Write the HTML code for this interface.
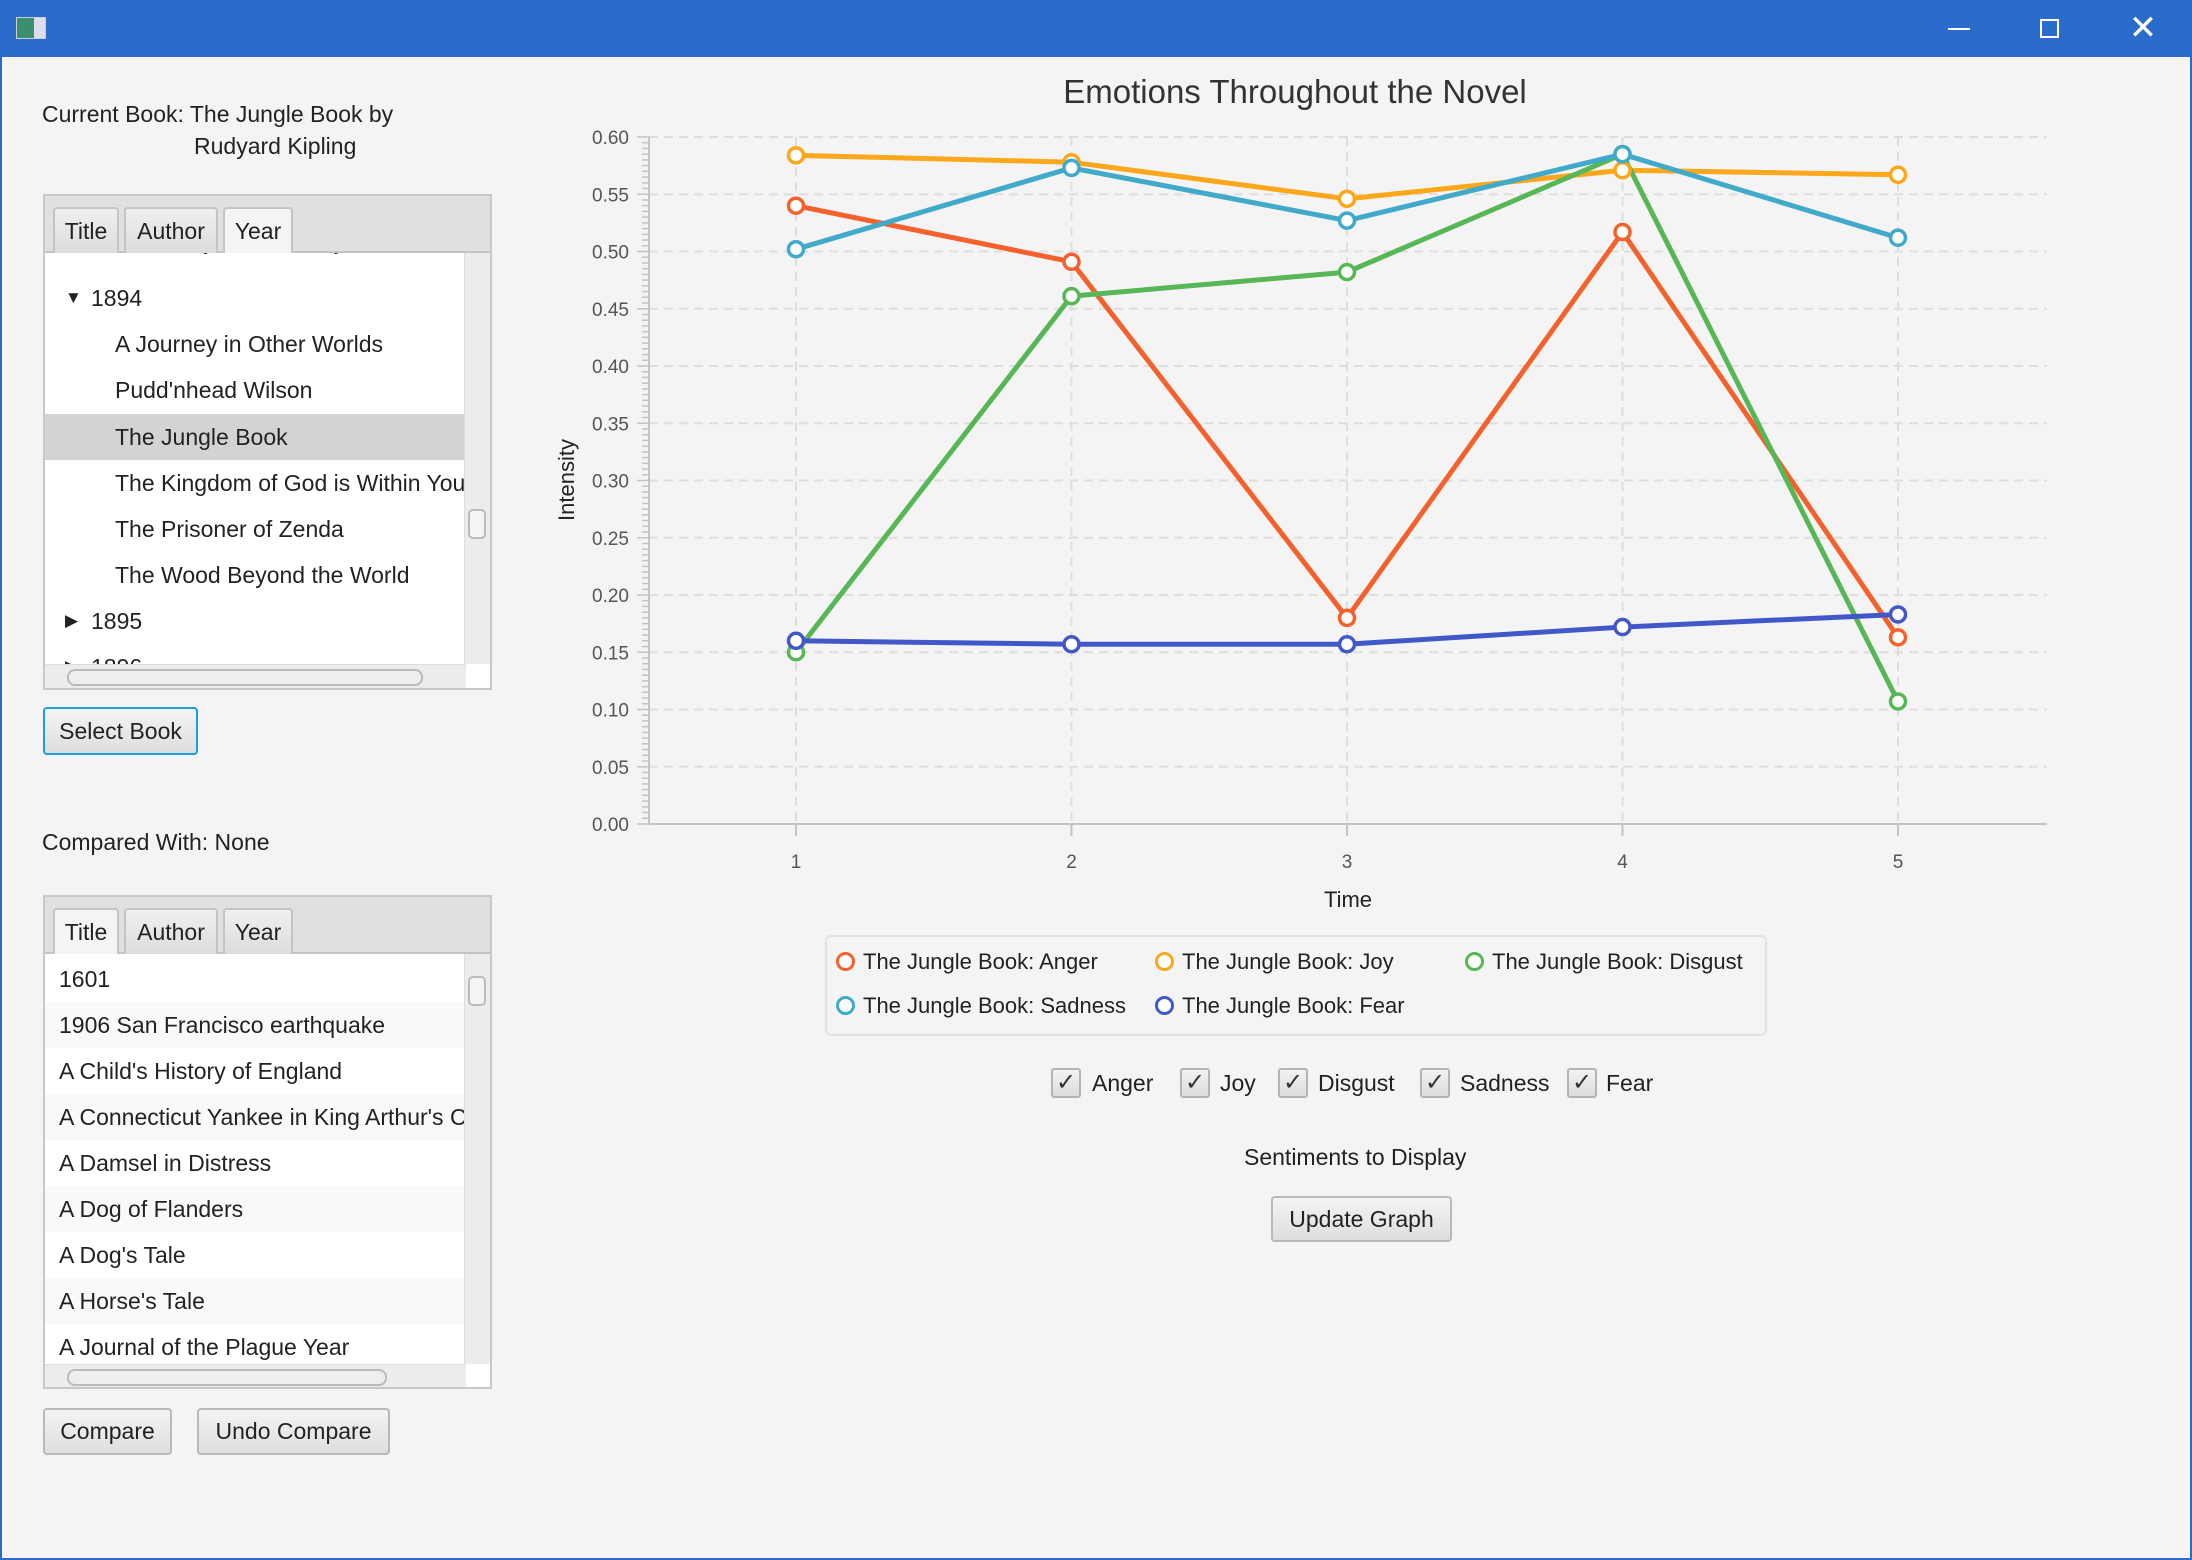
<!DOCTYPE html>
<html><head><meta charset="utf-8">
<style>
*{box-sizing:border-box}
body{margin:0;width:2192px;height:1560px;overflow:hidden;background:#f4f4f4;font-family:"Liberation Sans",sans-serif;color:#222;position:relative}
.abs{position:absolute}
.titlebar{left:0;top:0;width:2192px;height:57px;background:#2b6bcb}
.frame{left:0;top:57px;width:2192px;height:1503px;border:2px solid #2b6bcb;border-top:none}
.txt{font-size:23px;white-space:nowrap}
.box{border:2px solid #c8c8c8;background:#fff;overflow:hidden}
.hdr{position:absolute;left:0;top:0;width:100%;height:57px;background:#e0e0e0;border-bottom:2px solid #c4c4c4}
.tab{position:absolute;top:11px;height:46px;border:2px solid #c4c4c4;border-bottom:none;border-radius:4px 4px 0 0;background:linear-gradient(#f0f0f0,#dcdcdc);font-size:23px;text-align:center;line-height:44px}
.tab.sel{background:#f4f4f4}
.row{position:absolute;left:0;width:100%;height:46px;font-size:23px;line-height:46px;white-space:nowrap}
.vs{position:absolute;right:0;width:26px;background:#ececec;border-left:1px solid #ddd}
.hs{position:absolute;left:0;height:26px;background:#ececec;border-top:1px solid #ddd}
.btn{border:2px solid #b9b9b9;border-radius:4px;background:linear-gradient(#f4f4f4,#dedede);font-size:23px;text-align:center}
.cb{width:30px;height:30px;border:2px solid #b4b4b4;border-radius:3px;background:linear-gradient(#f2f2f2,#dcdcdc);font-size:24px;line-height:26px;text-align:center;color:#333}
</style></head><body>
<div class="abs titlebar">
  <div class="abs" style="left:16px;top:17px;width:30px;height:22px;background:linear-gradient(90deg,#3b8e6e 60%,#dde 60%);border:1px solid #ccc"></div>
  <div class="abs" style="left:1948px;top:28px;width:22px;height:2px;background:#fff"></div>
  <div class="abs" style="left:2040px;top:19px;width:19px;height:19px;border:2px solid #fff"></div>
  <div class="abs" style="left:2128px;top:14px;width:30px;height:30px;color:#fff;font-size:34px;line-height:28px;text-align:center">✕</div>
</div>
<div class="abs frame"></div>

<div class="abs txt" style="left:42px;top:101px">Current Book: The Jungle Book by</div>
<div class="abs txt" style="left:194px;top:133px">Rudyard Kipling</div>

<div class="abs box" style="left:43px;top:194px;width:449px;height:496px">
  <div class="hdr">
    <div class="tab" style="left:8px;width:66px">Title</div>
    <div class="tab" style="left:79px;width:94px">Author</div>
    <div class="tab sel" style="left:178px;width:70px">Year</div>
  </div>
  <div class="abs" style="left:0;top:57px;width:421px;height:411px;overflow:hidden">
    <div class="row" style="top:-35px;padding-left:70px">The Diary of a Nobody</div>
    <div class="row" style="top:22px;padding-left:46px"><span style="font-size:17px;position:absolute;left:20px">▼</span>1894</div>
    <div class="row" style="top:68px;padding-left:70px">A Journey in Other Worlds</div>
    <div class="row" style="top:114px;padding-left:70px">Pudd'nhead Wilson</div>
    <div class="row" style="top:161px;padding-left:70px;background:#d3d3d3">The Jungle Book</div>
    <div class="row" style="top:207px;padding-left:70px">The Kingdom of God is Within You</div>
    <div class="row" style="top:253px;padding-left:70px">The Prisoner of Zenda</div>
    <div class="row" style="top:299px;padding-left:70px">The Wood Beyond the World</div>
    <div class="row" style="top:345px;padding-left:46px"><span style="font-size:17px;position:absolute;left:20px">▶</span>1895</div>
    <div class="row" style="top:391px;padding-left:46px"><span style="font-size:17px;position:absolute;left:20px">▶</span>1896</div>
  </div>
  <div class="vs" style="top:57px;height:411px"><div class="abs" style="left:3px;top:256px;width:18px;height:30px;border:2px solid #bbb;border-radius:5px;background:#f4f4f4"></div></div>
  <div class="hs" style="top:468px;width:421px"><div class="abs" style="left:22px;top:4px;width:356px;height:17px;border:2px solid #bbb;border-radius:8px;background:#eee"></div></div>
</div>
<div class="abs btn" style="left:43px;top:707px;width:155px;height:48px;line-height:44px;border-color:#1d9fd9">Select Book</div>

<div class="abs txt" style="left:42px;top:829px">Compared With: None</div>

<div class="abs box" style="left:43px;top:895px;width:449px;height:494px">
  <div class="hdr">
    <div class="tab sel" style="left:8px;width:66px">Title</div>
    <div class="tab" style="left:79px;width:94px">Author</div>
    <div class="tab" style="left:178px;width:70px">Year</div>
  </div>
  <div class="abs" style="left:0;top:57px;width:421px;height:410px;overflow:hidden">
    <div class="row" style="top:2px;padding-left:14px">1601</div>
    <div class="row" style="top:48px;padding-left:14px;background:#f9f9f9">1906 San Francisco earthquake</div>
    <div class="row" style="top:94px;padding-left:14px">A Child's History of England</div>
    <div class="row" style="top:140px;padding-left:14px;background:#f9f9f9">A Connecticut Yankee in King Arthur's Court</div>
    <div class="row" style="top:186px;padding-left:14px">A Damsel in Distress</div>
    <div class="row" style="top:232px;padding-left:14px;background:#f9f9f9">A Dog of Flanders</div>
    <div class="row" style="top:278px;padding-left:14px">A Dog's Tale</div>
    <div class="row" style="top:324px;padding-left:14px;background:#f9f9f9">A Horse's Tale</div>
    <div class="row" style="top:370px;padding-left:14px">A Journal of the Plague Year</div>
  </div>
  <div class="vs" style="top:57px;height:410px"><div class="abs" style="left:3px;top:22px;width:18px;height:30px;border:2px solid #bbb;border-radius:5px;background:#f4f4f4"></div></div>
  <div class="hs" style="top:467px;width:421px"><div class="abs" style="left:22px;top:4px;width:320px;height:17px;border:2px solid #bbb;border-radius:8px;background:#eee"></div></div>
</div>
<div class="abs btn" style="left:43px;top:1408px;width:129px;height:47px;line-height:43px">Compare</div>
<div class="abs btn" style="left:197px;top:1408px;width:193px;height:47px;line-height:43px">Undo Compare</div>

<svg class="abs" id="chart" style="left:0;top:0" width="2192" height="960"></svg>

<div class="abs" style="left:825px;top:935px;width:942px;height:101px;border:2px solid #e2e2e2;border-radius:6px;background:#f4f4f4"></div>
<div id="legend-items"></div>

<div class="abs cb" style="left:1051px;top:1068px">✓</div>
<div class="abs txt" style="left:1092px;top:1070px">Anger</div>
<div class="abs cb" style="left:1180px;top:1068px">✓</div>
<div class="abs txt" style="left:1220px;top:1070px">Joy</div>
<div class="abs cb" style="left:1278px;top:1068px">✓</div>
<div class="abs txt" style="left:1318px;top:1070px">Disgust</div>
<div class="abs cb" style="left:1420px;top:1068px">✓</div>
<div class="abs txt" style="left:1460px;top:1070px">Sadness</div>
<div class="abs cb" style="left:1567px;top:1068px">✓</div>
<div class="abs txt" style="left:1606px;top:1070px">Fear</div>

<div class="abs txt" style="left:1244px;top:1144px">Sentiments to Display</div>
<div class="abs btn" style="left:1271px;top:1196px;width:181px;height:46px;line-height:42px">Update Graph</div>

<script>
const categories = [1, 2, 3, 4, 5];
const seriesNames = ["The Jungle Book: Anger","The Jungle Book: Joy","The Jungle Book: Disgust","The Jungle Book: Sadness","The Jungle Book: Fear"];
const anger   = [0.540, 0.491, 0.180, 0.517, 0.163];
const joy     = [0.584, 0.578, 0.546, 0.571, 0.567];
const disgust = [0.150, 0.461, 0.482, 0.585, 0.107];
const sadness = [0.502, 0.573, 0.527, 0.585, 0.512];
const fear    = [0.160, 0.157, 0.157, 0.172, 0.183];
const yTicks = ["0.00","0.05","0.10","0.15","0.20","0.25","0.30","0.35","0.40","0.45","0.50","0.55","0.60"];

const NS="http://www.w3.org/2000/svg";
const svg=document.getElementById('chart');
const L=649,R=2047,T=137,B=824;
const X0=796,DX=275.5;
const xs=c=>X0+(c-1)*DX;
const ys=v=>B-(v/0.6)*(B-T);
function mk(tag,attrs,parent){const e=document.createElementNS(NS,tag);for(const k in attrs)e.setAttribute(k,attrs[k]);(parent||svg).appendChild(e);return e;}

const title=mk('text',{x:1295,y:103,'text-anchor':'middle','font-size':33,fill:'#333','font-family':'Liberation Sans, sans-serif'});


title.textContent='Emotions Throughout the Novel';

const grid=mk('g',{stroke:'#dedede','stroke-width':2,'stroke-dasharray':'9 6'});


yTicks.forEach(t=>{const v=parseFloat(t);if(v>0)mk('line',{x1:L,x2:R,y1:ys(v),y2:ys(v)},grid);});
categories.forEach(c=>mk('line',{x1:xs(c),x2:xs(c),y1:T,y2:B},grid));

const yAxis=mk('g',{});


mk('line',{x1:L,x2:L,y1:T,y2:B,stroke:'#c4c4c4','stroke-width':2},yAxis);
for(let i=0;i<=120;i++){const v=i*0.005;const major=i%10===0;mk('line',{x1:major?L-12:L-7,x2:L,y1:ys(v),y2:ys(v),stroke:'#c4c4c4','stroke-width':1.5},yAxis);}
yTicks.forEach(t=>{const e=mk('text',{x:629,y:ys(parseFloat(t))+7,'text-anchor':'end','font-size':19,fill:'#555','font-family':'Liberation Sans, sans-serif'},yAxis);e.textContent=t;});
const yt=mk('text',{x:574,y:480,'text-anchor':'middle','font-size':22,fill:'#222',transform:'rotate(-90 574 480)','font-family':'Liberation Sans, sans-serif'});


yt.textContent='Intensity';

const xAxis=mk('g',{});


mk('line',{x1:L,x2:R,y1:B,y2:B,stroke:'#c4c4c4','stroke-width':2},xAxis);
categories.forEach(c=>{mk('line',{x1:xs(c),x2:xs(c),y1:B,y2:B+12,stroke:'#c4c4c4','stroke-width':2},xAxis);const e=mk('text',{x:xs(c),y:868,'text-anchor':'middle','font-size':19,fill:'#555','font-family':'Liberation Sans, sans-serif'},xAxis);e.textContent=c;});
const xt=mk('text',{x:1348,y:907,'text-anchor':'middle','font-size':22,fill:'#222','font-family':'Liberation Sans, sans-serif'});


xt.textContent='Time';

const allSeries=[anger,joy,disgust,sadness,fear];
const colors=['#f3622d','#fba71b','#57b757','#41a9c9','#4258c9'];
const keys=['anger','joy','disgust','sadness','fear'];
allSeries.forEach((s,i)=>{
  const g=mk('g',{});
  
  
  const pts=s.map((v,j)=>xs(categories[j])+','+ys(v)).join(' ');
  const pl=mk('polyline',{points:pts,fill:'none',stroke:colors[i],'stroke-width':5,'stroke-linejoin':'round'},g);
  
  
});
allSeries.forEach((s,i)=>{
  s.forEach((v,j)=>{
    const c=mk('circle',{cx:xs(categories[j]),cy:ys(v),r:7.5,fill:'#fff',stroke:colors[i],'stroke-width':3.5});
    
    
  });
});

const legPos=[[836,963],[1155,963],[1465,963],[836,1007],[1155,1007]];
const lc=document.getElementById('legend-items');
seriesNames.forEach((n,i)=>{
  const d=document.createElement('div');
  d.className='abs txt';
  d.style.left=legPos[i][0]+'px';d.style.top=(legPos[i][1]-14)+'px';
  d.style.fontSize='22px';
  d.innerHTML='<span style="display:inline-block;width:19px;height:19px;border:3.5px solid '+colors[i]+';border-radius:50%;background:#fff;vertical-align:-2px;margin-right:8px"></span>'+n;
  
  
  lc.appendChild(d);
});
</script>
</body></html>
